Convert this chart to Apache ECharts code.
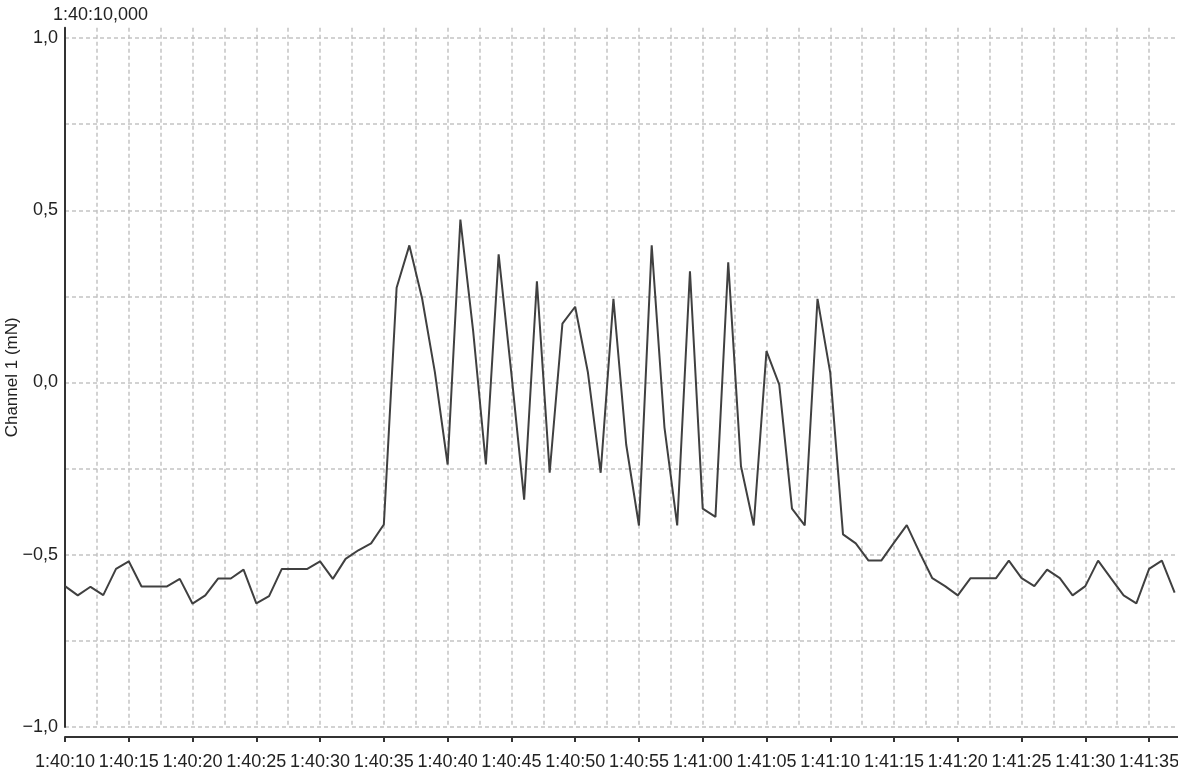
<!DOCTYPE html>
<html>
<head>
<meta charset="utf-8">
<script src="https://cdn.jsdelivr.net/npm/echarts@6/dist/echarts.min.js"></script>
<style>
  html, body { margin: 0; padding: 0; background: #fff; }
  #chart { width: 1178px; height: 774px; }
</style>
</head>
<body>
<div id="chart"></div>
<script>
// sample times, one per second from 1:40:10
var startSeconds = 6010;
var channel1 = [
  -0.591, -0.618, -0.593, -0.617, -0.541, -0.519, -0.592, -0.592, -0.592, -0.570,
  -0.642, -0.618, -0.569, -0.569, -0.543, -0.641, -0.620, -0.541, -0.541, -0.541,
  -0.519, -0.570, -0.512, -0.487, -0.467, -0.412, 0.275, 0.398, 0.244, 0.030,
  -0.238, 0.473, 0.150, -0.238, 0.372, 0.026, -0.340, 0.294, -0.262, 0.171,
  0.220, 0.029, -0.262, 0.243, -0.180, -0.415, 0.398, -0.130, -0.415, 0.323,
  -0.366, -0.390, 0.349, -0.243, -0.415, 0.091, -0.006, -0.366, -0.415, 0.243,
  0.028, -0.441, -0.467, -0.517, -0.517, -0.465, -0.414, -0.493, -0.568, -0.591,
  -0.618, -0.568, -0.568, -0.568, -0.517, -0.568, -0.591, -0.543, -0.568, -0.618,
  -0.591, -0.517, -0.568, -0.618, -0.641, -0.541, -0.517, -0.610
];
var xTickLabels = [
  '1:40:10', '1:40:15', '1:40:20', '1:40:25', '1:40:30', '1:40:35',
  '1:40:40', '1:40:45', '1:40:50', '1:40:55', '1:41:00', '1:41:05',
  '1:41:10', '1:41:15', '1:41:20', '1:41:25', '1:41:30', '1:41:35'
];
var yTickValues = [-1, -0.5, 0, 0.5, 1];
var yTickLabels = ['\u22121,0', '\u22120,5', '0,0', '0,5', '1,0'];

var points = channel1.map(function (v, i) { return [startSeconds + i, v]; });

var font = 'Liberation Sans';
var gridStyle = { color: '#c4c4c4', width: 1.5, type: [4, 3] };

var chart = echarts.init(document.getElementById('chart'));
chart.setOption({
  animation: false,
  textStyle: { fontFamily: font },
  title: {
    text: '1:40:10,000',
    left: 48,
    top: 1,
    textStyle: { fontFamily: font, fontSize: 18, fontWeight: 'normal', color: '#222' }
  },
  grid: { left: 65, top: 27.7, width: 1116, height: 699.3, outerBoundsMode: 'none', containLabel: false },
  xAxis: [
    {
      // grid lines every 2,5 s
      type: 'value',
      min: 6010,
      max: 6097.5,
      interval: 2.5,
      axisLine: { show: false },
      axisTick: { show: false },
      axisLabel: { show: false },
      splitLine: { show: true, lineStyle: gridStyle }
    },
    {
      type: 'value',
      position: 'bottom',
      offset: 10,
      min: 6010,
      max: 6097.5,
      interval: 5,
      axisLine: { show: true, lineStyle: { color: '#333', width: 2 } },
      axisTick: { show: true, length: 5, lineStyle: { color: '#333', width: 2 } },
      axisLabel: {
        margin: 16,
        fontSize: 18,
        color: '#222',
        showMaxLabel: false,
        formatter: function (v, idx) { return xTickLabels[idx] || ''; }
      },
      splitLine: { show: false }
    }
  ],
  yAxis: {
    type: 'value',
    min: -1,
    max: 1.03,
    interval: 0.25,
    name: 'Channel 1 (mN)',
    nameLocation: 'middle',
    nameRotate: 90,
    nameGap: 44,
    nameMoveOverlap: false,
    nameTextStyle: { fontFamily: font, fontSize: 17, color: '#222' },
    axisLine: { show: true, lineStyle: { color: '#333', width: 2 } },
    axisTick: { show: false },
    axisLabel: {
      margin: 7,
      fontSize: 18,
      color: '#222',
      formatter: function (v) {
        var k = yTickValues.indexOf(Math.round(v * 100) / 100);
        return k < 0 ? '' : yTickLabels[k];
      }
    },
    splitLine: { show: true, showMaxLine: false, lineStyle: gridStyle }
  },
  series: [{
    type: 'line',
    xAxisIndex: 0,
    data: points,
    showSymbol: false,
    lineStyle: { color: '#404040', width: 2 }
  }]
});
</script>
</body>
</html>
